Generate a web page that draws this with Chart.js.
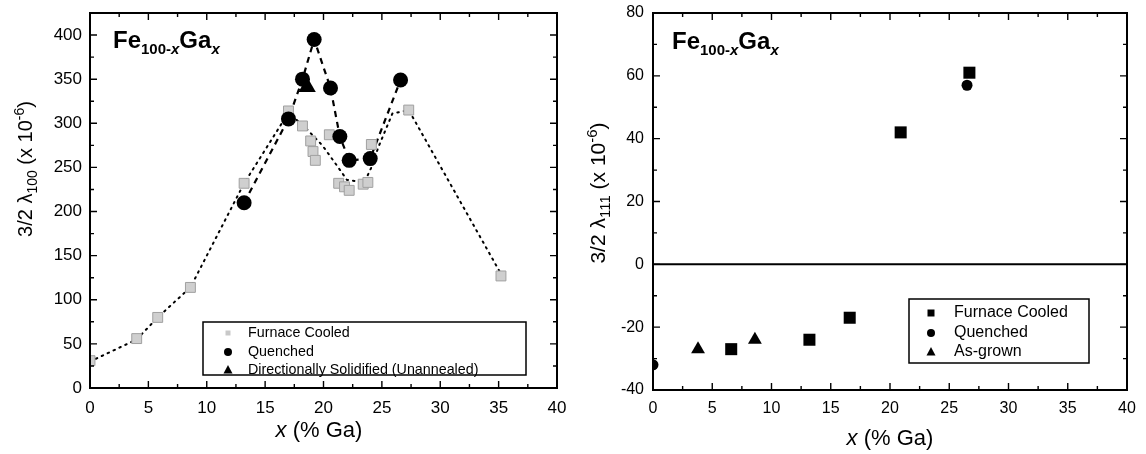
<!DOCTYPE html>
<html>
<head>
<meta charset="utf-8">
<script src="https://cdn.jsdelivr.net/npm/chart.js@4.4.1/dist/chart.umd.min.js"></script>
<style>
html, body { margin: 0; padding: 0; background: #fff; }
#wrap { position: relative; width: 1146px; height: 454px; }
.box { position: absolute; top: 0; width: 573px; height: 454px; }
</style>
</head>
<body>
<div id="wrap">
  <div class="box" style="left:0"><canvas id="lambda100"></canvas></div>
  <div class="box" style="left:573px"><canvas id="lambda111"></canvas></div>
</div>
<script>
// ---- lambda 100 (left panel) ----
var furnaceX = [0, 4.0, 5.8, 8.6, 13.2, 17.0, 18.2, 18.9, 19.1, 19.3, 20.5, 21.3, 21.8, 22.2, 23.4, 23.8, 24.1, 27.3, 35.2];
var furnaceY = [31, 56, 80, 114, 232, 314, 297, 280, 268, 258, 287, 232, 228, 224, 231, 233, 276, 315, 127];
var furnaceTrendX = [0, 4.0, 5.8, 8.6, 13.2, 17.0, 18.3, 19.9, 21.1, 22.0, 23.5, 24.1, 24.7, 25.9, 27.3, 35.3];
var furnaceTrendY = [30, 55, 80, 114, 232, 312, 297, 275, 253, 236, 233, 250, 273, 311, 315, 127];
var quenchedX = [13.2, 17.0, 18.2, 19.2, 20.6, 21.4, 22.2, 24.0, 26.6];
var quenchedY = [210, 305, 350, 395, 340, 285, 258, 260, 349];
var solidifiedX = [18.6];
var solidifiedY = [341];

// ---- lambda 111 (right panel) ----
var fc111X = [6.6, 13.2, 16.6, 20.9, 26.7];
var fc111Y = [-27, -24, -17, 42, 61];
var q111X = [0, 26.5];
var q111Y = [-32, 57];
var asGrownX = [3.8, 8.6];
var asGrownY = [-27, -24];

var FONT = "'Liberation Sans', Arial, Helvetica, sans-serif";

function pts(xs, ys) {
  return xs.map(function (x, i) { return { x: x, y: ys[i] }; });
}

function richWidth(ctx, segs) {
  var w = 0;
  segs.forEach(function (s) { ctx.font = s.f; w += ctx.measureText(s.t).width; });
  return w;
}
function drawRich(ctx, segs, x, y, center) {
  var cx = center ? x - richWidth(ctx, segs) / 2 : x;
  segs.forEach(function (s) {
    ctx.font = s.f;
    ctx.fillText(s.t, cx, y + (s.dy || 0));
    cx += ctx.measureText(s.t).width;
  });
}

function marker(ctx, style, x, y, r) {
  ctx.beginPath();
  if (style === 'rect') {
    ctx.rect(x - r, y - r, 2 * r, 2 * r);
  } else if (style === 'circle') {
    ctx.arc(x, y, r, 0, Math.PI * 2);
  } else {
    ctx.moveTo(x, y - r * 1.1);
    ctx.lineTo(x + r, y + r * 0.75);
    ctx.lineTo(x - r, y + r * 0.75);
    ctx.closePath();
  }
  ctx.fill();
}

// frame with inward ticks on all four sides, titles and the boxed legend
var decor = {
  id: 'decor',
  afterDatasetsDraw: function (chart, args, o) {
    var ctx = chart.ctx, a = chart.chartArea;
    var xs = chart.scales.x, ys = chart.scales.y;
    ctx.save();
    ctx.strokeStyle = '#000';
    ctx.fillStyle = '#000';

    if (o.zeroLine) {
      ctx.lineWidth = 2;
      var zy = ys.getPixelForValue(0);
      ctx.beginPath(); ctx.moveTo(a.left, zy); ctx.lineTo(a.right, zy); ctx.stroke();
    }

    ctx.lineWidth = 2;
    ctx.strokeRect(a.left, a.top, a.right - a.left, a.bottom - a.top);

    ctx.lineWidth = 1.4;
    function isMajor(v, step) { return Math.abs(v / step - Math.round(v / step)) < 1e-6; }
    var v, p, L;
    for (v = xs.min; v <= xs.max + 1e-9; v += o.xMinor) {
      p = xs.getPixelForValue(v); L = isMajor(v, o.xMajor) ? 7 : 4;
      ctx.beginPath();
      ctx.moveTo(p, a.bottom); ctx.lineTo(p, a.bottom - L);
      ctx.moveTo(p, a.top); ctx.lineTo(p, a.top + L);
      ctx.stroke();
    }
    for (v = ys.min; v <= ys.max + 1e-9; v += o.yMinor) {
      p = ys.getPixelForValue(v); L = isMajor(v, o.yMajor) ? 7 : 4;
      ctx.beginPath();
      ctx.moveTo(a.left, p); ctx.lineTo(a.left + L, p);
      ctx.moveTo(a.right, p); ctx.lineTo(a.right - L, p);
      ctx.stroke();
    }

    // Fe100-xGax label
    ctx.textBaseline = 'alphabetic';
    var big = 'bold 24px ' + FONT, sub = 'bold 15px ' + FONT, subI = 'italic bold 15px ' + FONT;
    drawRich(ctx, [
      { t: 'Fe', f: big }, { t: '100-', f: sub, dy: 6 }, { t: 'x', f: subI, dy: 6 },
      { t: 'Ga', f: big }, { t: 'x', f: subI, dy: 6 }
    ], o.feX, o.feY, false);

    // x title
    drawRich(ctx, [
      { t: 'x', f: 'italic 22px ' + FONT }, { t: ' (% Ga)', f: '22px ' + FONT }
    ], o.xtX, o.xtY, true);

    // y title (rotated)
    ctx.save();
    ctx.translate(o.ytX, o.ytY);
    ctx.rotate(-Math.PI / 2);
    var yf = o.ytSize + 'px ' + FONT, ys2 = Math.round(o.ytSize * 0.7) + 'px ' + FONT;
    drawRich(ctx, [
      { t: '3/2 \u03bb', f: yf }, { t: o.lambdaSub, f: ys2, dy: 5 },
      { t: ' (x 10', f: yf }, { t: '-6', f: ys2, dy: -8 }, { t: ')', f: yf }
    ], 0, 7, true);
    ctx.restore();

    // legend box
    var lg = o.legend;
    ctx.lineWidth = 1.5;
    ctx.strokeRect(lg.x, lg.y, lg.w, lg.h);
    ctx.font = lg.font;
    ctx.textBaseline = 'middle';
    lg.items.forEach(function (it, i) {
      var ry = lg.rows[i];
      ctx.fillStyle = it.color;
      marker(ctx, it.style, lg.symX, ry, it.r);
      ctx.fillStyle = '#000';
      ctx.fillText(it.text, lg.textX, ry);
    });
    ctx.restore();
  }
};

function baseOptions(cfg) {
  return {
    responsive: true,
    maintainAspectRatio: false,
    animation: false,
    layout: { padding: { left: 0, right: cfg.padRight, top: 13, bottom: 0 } },
    plugins: {
      legend: { display: false },
      tooltip: { enabled: false },
      decor: cfg.decor
    },
    scales: {
      x: {
        type: 'linear', min: 0, max: 40,
        grid: { display: false, drawTicks: false },
        border: { display: false },
        ticks: { stepSize: 5, padding: cfg.xPad, color: '#000', font: { family: FONT, size: cfg.tickSize } },
        afterFit: function (s) { s.height = cfg.xHeight; s.paddingLeft = 0; s.paddingRight = 0; }
      },
      y: {
        type: 'linear', min: cfg.yMin, max: cfg.yMax,
        grid: { display: false, drawTicks: false },
        border: { display: false },
        ticks: { stepSize: cfg.yStep, includeBounds: false, padding: cfg.yPad, color: '#000', font: { family: FONT, size: cfg.tickSize } },
        afterFit: function (s) { s.width = cfg.yWidth; s.paddingTop = 0; s.paddingBottom = 0; }
      }
    }
  };
}

new Chart(document.getElementById('lambda100'), {
  type: 'scatter',
  plugins: [decor],
  data: {
    datasets: [
      { label: 'furnace trend', data: pts(furnaceTrendX, furnaceTrendY), showLine: true, pointRadius: 0,
        borderColor: '#000', borderWidth: 2, borderDash: [1.5, 5], borderCapStyle: 'round', order: 6, clip: 0 },
      { label: 'quenched trend', data: pts(quenchedX, quenchedY), showLine: true, pointRadius: 0,
        borderColor: '#000', borderWidth: 2.2, borderDash: [6, 5], order: 5, clip: 0 },
      { label: 'Furnace Cooled', data: pts(furnaceX, furnaceY), pointStyle: 'rect', pointRadius: 7,
        backgroundColor: '#cfcfcf', borderColor: '#a0a0a0', borderWidth: 1, order: 4, clip: 0 },
      { label: 'Quenched', data: pts(quenchedX, quenchedY), pointStyle: 'circle', pointRadius: 7.5,
        backgroundColor: '#000', borderColor: '#000', borderWidth: 0, order: 3, clip: 0 },
      { label: 'Directionally Solidified (Unannealed)', data: pts(solidifiedX, solidifiedY), pointStyle: 'triangle', pointRadius: 10,
        backgroundColor: '#000', borderColor: '#000', borderWidth: 0, order: 2, clip: 0 }
    ]
  },
  options: baseOptions({
    padRight: 16, xHeight: 66, yWidth: 90, xPad: 10, yPad: 8, tickSize: 17,
    yMin: 0, yMax: 425, yStep: 50,
    decor: {
      xMajor: 5, xMinor: 2.5, yMajor: 50, yMinor: 25,
      feX: 113, feY: 48, xtX: 319, xtY: 437, ytX: 25, ytY: 169, ytSize: 20, lambdaSub: '100',
      legend: {
        x: 203, y: 322, w: 323, h: 53, symX: 228, textX: 248, rows: [333, 352, 370], font: '14.3px ' + FONT,
        items: [
          { text: 'Furnace Cooled', style: 'rect', r: 2.5, color: '#c8c8c8' },
          { text: 'Quenched', style: 'circle', r: 4, color: '#000' },
          { text: 'Directionally Solidified (Unannealed)', style: 'triangle', r: 4.5, color: '#000' }
        ]
      }
    }
  })
});

new Chart(document.getElementById('lambda111'), {
  type: 'scatter',
  plugins: [decor],
  data: {
    datasets: [
      { label: 'Furnace Cooled', data: pts(fc111X, fc111Y), pointStyle: 'rect', pointRadius: 8.5,
        backgroundColor: '#000', borderColor: '#000', borderWidth: 0, clip: 0 },
      { label: 'Quenched', data: pts(q111X, q111Y), pointStyle: 'circle', pointRadius: 5.5,
        backgroundColor: '#000', borderColor: '#000', borderWidth: 0, clip: 0 },
      { label: 'As-grown', data: pts(asGrownX, asGrownY), pointStyle: 'triangle', pointRadius: 8,
        backgroundColor: '#000', borderColor: '#000', borderWidth: 0, clip: 0 }
    ]
  },
  options: baseOptions({
    padRight: 19, xHeight: 64, yWidth: 80, xPad: 9, yPad: 9, tickSize: 16,
    yMin: -40, yMax: 80, yStep: 20,
    decor: {
      xMajor: 5, xMinor: 2.5, yMajor: 20, yMinor: 10, zeroLine: true,
      feX: 99, feY: 49, xtX: 317, xtY: 445, ytX: 25, ytY: 193, ytSize: 21, lambdaSub: '111',
      legend: {
        x: 336, y: 299, w: 180, h: 64, symX: 358, textX: 381, rows: [313, 333, 352], font: '16px ' + FONT,
        items: [
          { text: 'Furnace Cooled', style: 'rect', r: 3.5, color: '#000' },
          { text: 'Quenched', style: 'circle', r: 4, color: '#000' },
          { text: 'As-grown', style: 'triangle', r: 4.5, color: '#000' }
        ]
      }
    }
  })
});
</script>
</body>
</html>
